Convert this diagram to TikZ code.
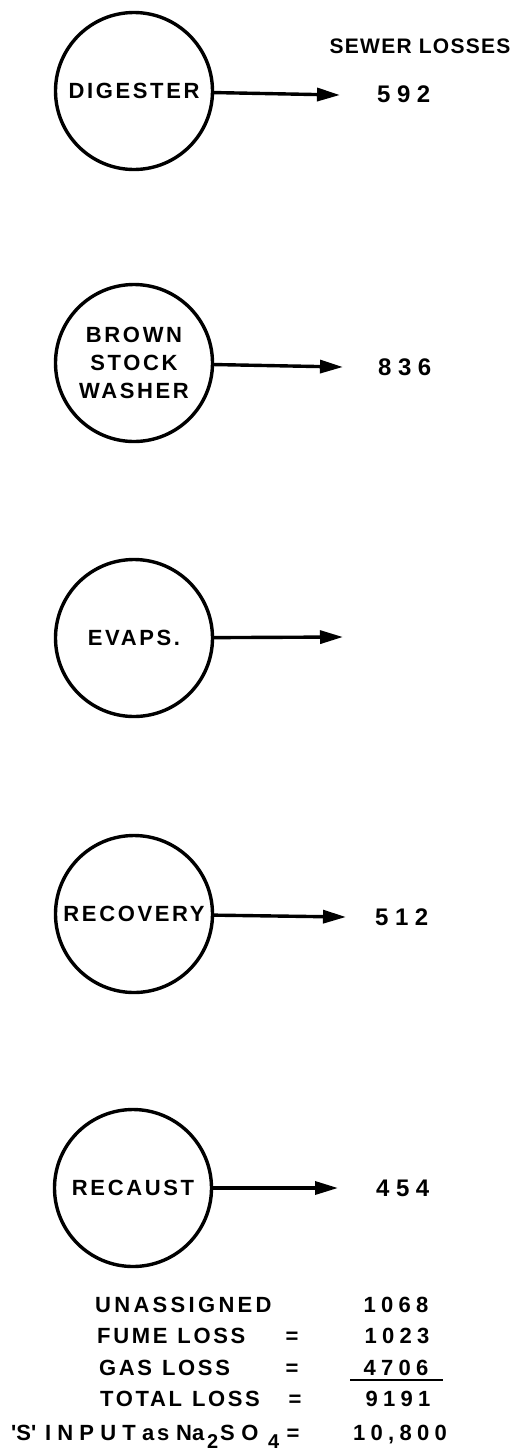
\documentclass[tikz,border=0pt]{standalone}
\usepackage{fontspec}
\setmainfont{Liberation Sans}
\usetikzlibrary{arrows.meta}
\newcommand{\wsp}[1]{{\addfontfeature{LetterSpace=12}#1}}
\newcommand{\usp}[1]{{\addfontfeature{LetterSpace=15}#1}}
\newcommand{\isp}[1]{{\addfontfeature{LetterSpace=28}#1}}
\newcommand{\hsp}[1]{{\addfontfeature{LetterSpace=6}#1}}
\newcommand{\nsp}[1]{{\addfontfeature{LetterSpace=27}#1}}
\newcommand{\tsp}[1]{{\addfontfeature{LetterSpace=24}#1}}
\begin{document}
\begin{tikzpicture}[x=1pt,y=-1pt,
  proc/.style={circle, draw, line width=3.4pt, minimum size=157pt, inner sep=0pt,
    font=\bfseries\fontsize{22}{28}\selectfont, align=center},
  flow/.style={line width=3.4pt, -{Triangle[length=23pt,width=13pt]}},
  num/.style={anchor=west, inner sep=0pt, font=\bfseries\fontsize{24}{26}\selectfont},
  head/.style={inner sep=0pt, font=\bfseries\fontsize{21}{24}\selectfont},
  lbl/.style={anchor=base west, inner sep=0pt, font=\bfseries\fontsize{22}{24}\selectfont},
  sub/.style={anchor=base west, inner sep=0pt, font=\bfseries\fontsize{20}{22}\selectfont},
  tnum/.style={anchor=base, inner sep=0pt, font=\bfseries\fontsize{22}{24}\selectfont},
  eq/.style={anchor=base, inner sep=0pt, font=\bfseries\fontsize{22}{24}\selectfont}]
\useasboundingbox (0,0) rectangle (531,1452);
\fill[white] (0,0) rectangle (531,1452);

% process circles
\node[proc] (dig) at (134,91) {\wsp{DIGESTER}};
\node[proc] (bsw) at (134,363) {\wsp{BROWN}\\\wsp{STOCK}\\\wsp{WASHER}};
\node[proc] (eva) at (134,638) {\wsp{EVAPS.}};
\node[proc] (rec) at (134,914) {\wsp{RECOVERY}};
\node[proc] (rca) at (133,1188) {\wsp{RECAUST}};

% arrow ends
\coordinate (digE) at (340,95);
\coordinate (bswE) at (343,367);
\coordinate (evaE) at (343,637);
\coordinate (recE) at (346,917);
\coordinate (rcaE) at (338,1188);

\draw[flow] (dig) -- (digE);
\draw[flow] (bsw) -- (bswE);
\draw[flow] (eva) -- (evaE);
\draw[flow] (rec) -- (recE);
\draw[flow] (rca) -- (rcaE);

% heading and values
\node[head] (sewer) at (420,46) {\hsp{SEWER LOSSES}};
\node[num] (v1) at (377,94) {\nsp{592}};
\node[num] (v2) at (378,367) {\nsp{836}};
\node[num] (v4) at (375,917) {\nsp{512}};
\node[num] (v5) at (376,1188) {\nsp{454}};

% summary table
\node[lbl] (l1) at (95,1312) {\usp{UNASSIGNED}};
\node[lbl] (l2) at (97,1343) {\wsp{FUME}\hspace{10pt}\wsp{LOSS}};
\node[lbl] (l3) at (99,1375) {\wsp{GAS}\hspace{10pt}\wsp{LOSS}};
\node[lbl] (l4) at (100,1406) {\wsp{TOTAL}\hspace{10pt}\wsp{LOSS}};

% 'S' INPUT as Na2SO4 row
\node[lbl] (s1) at (11,1440) {\wsp{\textquotesingle S\textquotesingle}};
\node[lbl] (s2) at (45,1440) {\isp{INPUT}};
\node[lbl] (s3) at (142,1440) {\wsp{as}};
\node[lbl] (s4) at (176,1440) {Na};
\node[sub] (s5) at (207,1448) {2};
\node[lbl] (s6) at (220,1440) {{\addfontfeature{LetterSpace=30}SO}};
\node[sub] (s7) at (268,1448) {4};

\node[eq] (e2) at (292,1343) {=};
\node[eq] (e3) at (292,1375) {=};
\node[eq] (e4) at (295,1406) {=};
\node[eq] (e5) at (293,1440) {=};

\node[tnum] (n1) at (396,1312) {\tsp{1068}};
\node[tnum] (n2) at (397,1343) {\tsp{1023}};
\node[tnum] (n3) at (396,1375) {\tsp{4706}};
\node[tnum] (n4) at (398,1406) {\tsp{9191}};
\node[tnum] (n5) at (400,1440) {\tsp{10,800}};

\coordinate (ulA) at (350,1380);
\coordinate (ulB) at (443,1380);
\draw[line width=2.5pt] (ulA) -- (ulB);
\end{tikzpicture}
\end{document}
